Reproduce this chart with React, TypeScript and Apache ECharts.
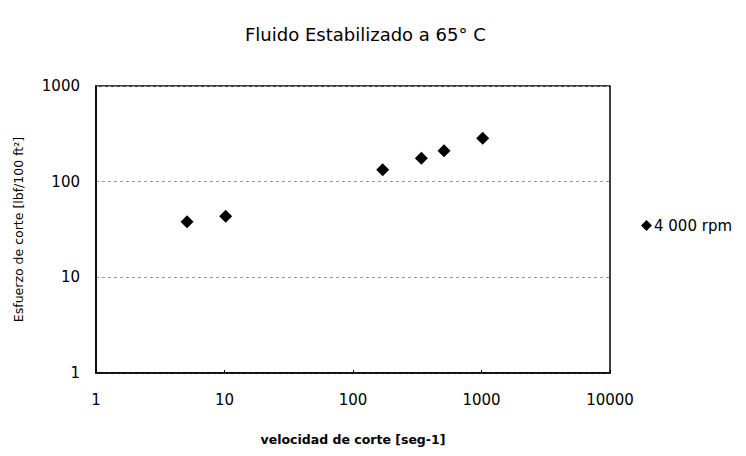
import React, { useEffect, useRef } from "react";
import * as echarts from "echarts";

const titleText = "Fluido Estabilizado a 65° C";
const seriesName = "4 000 rpm";
const shearRate = [5.11, 10.22, 170.3, 340.6, 511, 1022];
const shearStress = [38, 43.5, 133, 176, 210, 285];
const xAxisName = "velocidad de corte [seg-1]";
const yAxisName = "Esfuerzo de corte [lbf/100 ft²]";

export default function App() {
  const ref = useRef<HTMLDivElement>(null);
  useEffect(() => {
    if (!ref.current) return;
    const chart = echarts.init(ref.current, undefined, { renderer: "svg" });
    const font = "'DejaVu Sans', 'Liberation Sans', Arial, sans-serif";
    const fmt = (v: number) => String(Math.round(v));
    chart.setOption({
      animation: false,
      backgroundColor: "#ffffff",
      textStyle: { fontFamily: font },
      title: {
        text: titleText,
        left: 240,
        top: 20,
        textStyle: { fontFamily: font, fontSize: 18, fontWeight: "normal", color: "#000" },
      },
      legend: {
        left: 636,
        top: 213,
        itemWidth: 11,
        itemHeight: 11,
        itemGap: 4,
        data: [{ name: seriesName, icon: "diamond" }],
        textStyle: { fontFamily: font, fontSize: 15, color: "#000", padding: [0, 0, 0, -3] },
      },
      grid: { left: 96, right: 136, top: 86, bottom: 83, show: true, borderColor: "#000", borderWidth: 1.5 },
      xAxis: {
        type: "log",
        logBase: 10,
        min: 1,
        max: 10000,
        name: xAxisName,
        nameLocation: "middle",
        nameGap: 60,
        nameTextStyle: { fontFamily: font, fontSize: 12.5, fontWeight: "bold", color: "#000" },
        axisLine: { show: true, lineStyle: { color: "#000", width: 1.5 } },
        axisTick: { show: true, inside: true, length: 3, lineStyle: { color: "#000" } },
        axisLabel: { margin: 19, fontFamily: font, fontSize: 15, color: "#000", formatter: fmt },
        splitLine: { show: false },
      },
      yAxis: {
        type: "log",
        logBase: 10,
        min: 1,
        max: 1000,
        name: yAxisName,
        nameLocation: "middle",
        nameGap: 71,
        nameTextStyle: { fontFamily: font, fontSize: 12.5, color: "#000" },
        axisLine: { show: true, lineStyle: { color: "#000", width: 1.5 } },
        axisTick: { show: false },
        axisLabel: { margin: 16, fontFamily: font, fontSize: 15, color: "#000", formatter: fmt },
        splitLine: { show: true, lineStyle: { color: "#999", type: [3, 3], width: 1 } },
      },
      series: [
        {
          name: seriesName,
          type: "scatter",
          symbol: "diamond",
          symbolSize: 13,
          itemStyle: { color: "#000", opacity: 1 },
          data: shearRate.map((x, i) => [x, shearStress[i]]),
        },
      ],
    });
    return () => chart.dispose();
  }, []);
  return (
    <div
      ref={ref}
      style={{ position: "fixed", left: 0, top: 0, width: 746, height: 456, background: "#fff" }}
    />
  );
}
